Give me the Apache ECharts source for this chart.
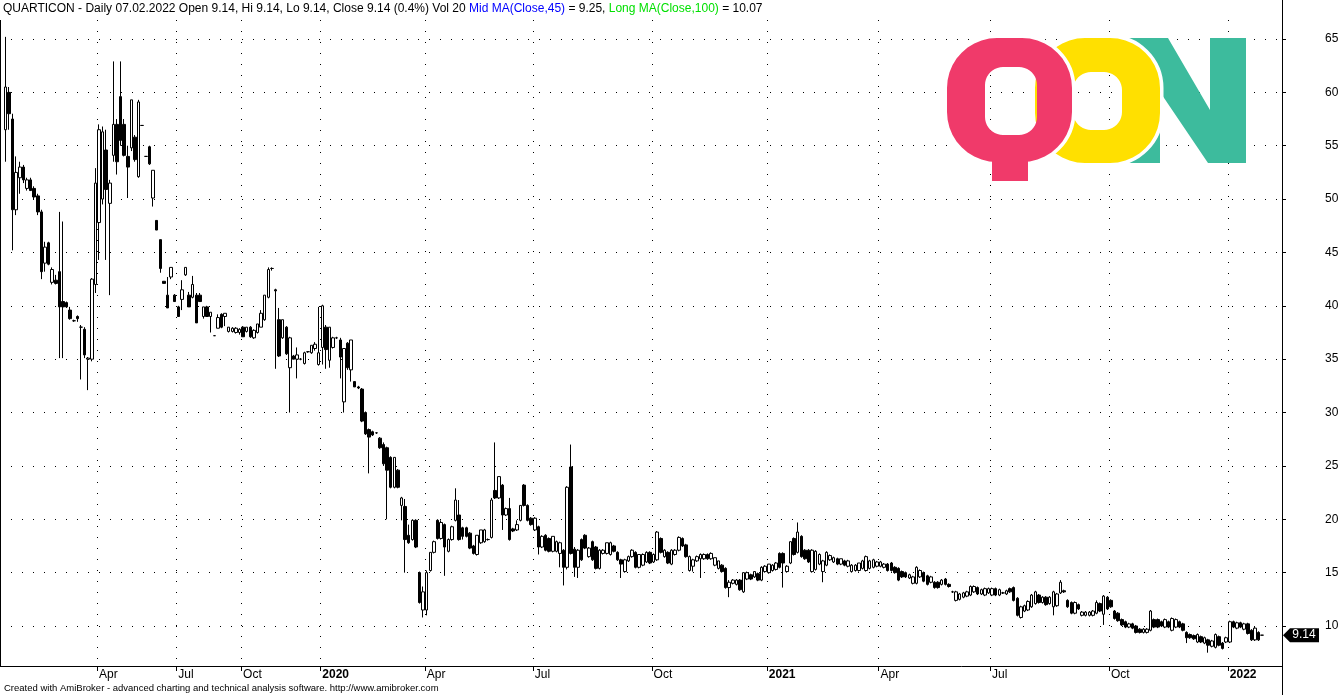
<!DOCTYPE html>
<html><head><meta charset="utf-8">
<script src="https://cdn.jsdelivr.net/npm/echarts@6/dist/echarts.min.js"></script>
<style>html,body{margin:0;padding:0;background:#fff;}#c{width:1343px;height:695px;}</style>
</head><body><div id="c"></div>
<script>
// ---- data: each bar = [open, high, low, close], grouped by calendar quarter ----
const quarterLabels = ['', 'Apr', 'Jul', 'Oct', '2020', 'Apr', 'Jul', 'Oct', '2021', 'Apr', 'Jul', 'Oct', '2022'];
const yearLabels = ['2020', '2021', '2022'];

const bars2019Q1 = [null,
[56.5,65.2,53.5,60.5],[60,60.5,56.5,58],[57.5,58,45.2,49],[49,54,48.5,52.5],[52,53.5,50.5,53],
[53,53.2,51.5,51.8],[51,52,50.8,51.8],[51.8,52,50.8,50.8],[51,51.2,50,50.2],[50.3,50.5,48.5,48.8],
[48.8,49,42.5,43.2],[44,46,43.2,45.5],[45.9,46,43.8,43.9],[42.2,43.6,42,43.4],[42.4,42.9,42,42.1],
[43.2,48.8,35.1,39.9],[40.4,47.9,35.1,39.9],[40.3,40.4,39.8,39.9],[39.6,39.9,38.7,38.8],[38.6,38.7,38.5,38.6],
[39,39.1,38.5,38.8],[38,38.2,33.1,38],[37.8,38,35.1,35.4],[35,35.2,32.1,35.1],[35,42.6,34.8,42.5],
[42,52.9,41.2,51.5]];
const bars2019Q2 = [
[47.8,57,44.3,56.5],[50,56.8,49.5,56.3],[54.6,56.5,44.3,50.9],[49.6,51.8,41,51.5],[54.1,62.9,53.5,57],
[57,57.5,52.3,53.5],[59.6,62.9,55,55.5],[57,57.5,54,54.1],[54,55,50.1,53],[54.8,59.3,54.5,59.3],
[55.8,56,53.5,53.7],[52.1,59.3,52,59.1],[56.9,56.9,56.9,56.9],[54,54,54,54],[54.9,55,53.2,53.3],
[50.1,52.7,49.3,52.7],[48,48,47.1,47.1],[46.2,46.2,43.1,43.5],[42.3,42.3,42.1,42.1],[41,42.7,39.8,39.8],
[42.7,43.6,42.5,43.6],[41,41.1,40.4,40.4]];
const bars2019Q3 = [
[39.9,40,39,39],[40.6,42.4,39.6,41.5],[42.9,43.6,42.8,43.6],[41,41.3,39.9,39.9],[40.8,42.8,40.7,42],
[41,41.2,38.4,38.4],[41,41.2,40.4,40.4],[39,39.9,38.8,39.9],[39.9,40,39,39],[39,39.4,37.5,39.4],
[37.2,37.2,37.2,37.2],[37.9,39.2,37.9,38.9],[39.2,39.3,37.9,38],[39,39.3,38.1,39.3],[37.6,38,37.5,38],
[37.6,38,37.5,37.9],[37.5,38,37.4,37.9],[37.5,37.9,37.3,37.8]];
const bars2019Q4 = [
[38,38.1,37.1,37.1],[37.6,38,37.5,38],[38,38.1,37,37.1],[37,37.8,36.9,37.7],[37.5,38.3,37.4,38.3],
[38,39.6,38,39.3],[38.7,41,38.6,41],[40.8,43.6,40.7,43.4],[43.5,43.6,43.3,43.5],[41.5,41.6,34.1,41.4],
[38.7,39.8,35.2,35.3],[37,38.7,36.9,38.7],[38,38.1,35.4,35.5],[34.2,37.1,30,37],[35.3,35.4,35,35],
[35,36.1,33.2,35.4],[35,35.1,34.9,35],[34.6,35.7,34.5,35.6],[35.7,35.7,35.6,35.7],[35.6,36.3,35.5,36.3],
[36,36.6,35.8,36.4],[34.5,39.9,34.4,35.6]];
const bars2020Q1 = [
[36.1,40.1,34.5,40],[38,38.2,34.1,35.9],[34.9,38,34.2,38],[36.1,37.1,36,37],[37,37.1,36.9,37],
[36.8,37,33.2,35.2],[31,36,30,36],[36.5,36.6,34,34.2],[34,36.8,32.9,36.8],[32.9,32.9,32.4,32.4],
[32.4,32.5,32.2,32.3],[32.2,32.3,29.1,29.2],[30,30.1,27.9,28],[28.4,28.5,24.3,27.7],[28.2,28.3,27.8,27.9],
[28.1,28.1,28,28.1],[27.6,27.7,26.6,26.7],[27,27.2,25,25.2],[26.7,26.8,20,24.6],[25.8,25.9,22.9,23],
[23,25.8,22.9,25.8],[24.6,24.7,22.9,23],[21.3,22.1,19.9,22],[21.2,21.9,15,18.1],[18.5,19.5,17.7,17.8],
[18.1,20,18,19.9],[19.9,20,17.3,17.4],[15,15.1,12.1,12.2],[11.5,13.7,10.8,13.2]];
const bars2020Q2 = [
[11.5,15.2,11,15],[15.2,16.9,15.1,16.9],[16.9,18,16.8,17.9],[19.9,20,18.1,18.2],[18.2,19.9,18.1,19.7],
[19.5,19.6,14.7,17.4],[17,18.2,16.9,18.1],[18.1,19.4,18,19.3],[19.9,22.9,19.8,21.8],[20.4,21.8,18,18.1],
[19.2,19.3,18.1,18.4],[19.2,19.3,18.3,18.4],[18.7,18.8,17.2,17.3],[17.5,17.6,16.7,16.8],[16.7,18.5,16.6,18.5],
[17.8,19,17.7,19],[17.9,19.1,17.8,19],[18.1,18.2,18,18.1],[18.3,22,18.2,21.8],[22.7,27.2,21.9,22],
[22,24,21.9,24],[23.2,23.3,19,20.4],[20.4,21.1,20.3,21],[21,22,18,18.1],[19.1,19.2,18.8,18.9],
[19,19.9,18.9,19.5],[19.9,21.3,19.8,21.3],[23.2,23.3,21.2,21.3],[21.3,21.4,19.8,19.9],[20.1,20.2,19.4,19.5]];
const bars2020Q3 = [
[19,20.2,18.9,20.1],[19.3,19.4,16.7,17.4],[17.4,18.5,17.3,18.4],[18.5,18.6,17,17.1],[18.2,18.3,16.9,17],
[17,18.4,16.9,18.4],[17,18,16.9,17.9],[16.8,17.9,15.5,17.8],[17.1,17.2,13.8,15.5],[15.5,23.1,15.3,23],
[24.9,27,16.7,16.8],[17.2,17.4,14.6,15.5],[15.5,17.2,14.5,17.1],[18.1,18.2,16.1,16.2],[18.5,18.6,17.2,17.3],
[16.5,17.4,16.4,17.3],[17.9,18,16.1,16.2],[17.4,17.5,15.3,15.4],[15.4,17.2,15.3,17.1],[16.8,17.2,16.7,17.1],
[16.8,17.8,16.7,17.8],[16.7,17.9,16.6,17.8],[17.5,17.6,16.9,17],[16.9,17,16.1,16.2],[16.2,16.3,14.5,15.8],
[15.1,16.3,15,16.2],[16.1,16.6,16,16.5],[16.5,17.2,16.4,17.1],[16.9,17,15.4,15.5],[15.5,16.7,15.4,16.7],
[15.7,16.8,15.6,16.7],[16,17,15.9,16.9],[16.9,17,15.8,15.9]];
const bars2020Q4 = [
[16,16.8,15.9,16.7],[16.2,18.9,16.1,18.8],[18.2,18.3,16.8,16.9],[16.5,17.2,16.4,17.1],[16.9,17,15.8,15.9],
[15.8,17.2,15.7,17.1],[16.7,17.2,16.6,17.1],[17.1,18.4,17,18.3],[18.2,18.3,17.4,17.5],[17.6,17.7,16.4,16.5],
[15.2,16.6,15.1,16.5],[15.6,16.3,15.1,16.2],[16.1,16.6,16,16.5],[16.3,16.8,14.5,16.7],[16.3,16.8,16.2,16.7],
[16.7,16.8,16.2,16.3],[16.3,16.9,16.2,16.8],[15.7,16.4,15.6,16.4],[15.4,16.1,15.3,16.1],[15.7,15.8,15,15.1],
[15.4,15.5,13.5,13.6],[13.6,14.3,12.7,14.1],[14,14.4,13.9,14.3],[13.9,14.4,13.8,14.3],[14.3,14.4,13.3,13.4],
[13.2,15,13.1,15],[14.4,15.1,14.3,15],[14.8,14.9,14.3,14.4],[14.6,15.1,14.5,15.1],[14.9,15,14.2,14.3],
[14.3,15.6,14.2,15.5],[15.1,15.7,15,15.6]];
const bars2021Q1 = [
[15,15.8,14.9,15.8],[15.2,15.8,15.1,15.7],[15.3,16,15.2,15.9],[16.8,16.9,15.4,15.5],[16.8,16.9,13.6,15.9],
[15.1,15.7,15,15.6],[15.9,17.9,15.8,17.9],[18.2,18.3,16.6,16.7],[16.9,19.7,16.8,18.8],[18.4,18.5,16.4,16.5],
[17.1,17.2,16.2,16.3],[17.1,17.2,15.9,16],[15.1,17.2,15,17.1],[15.3,17.1,15.2,17],[15.8,16.8,15.7,16.7],
[15.1,16.2,14.1,16.1],[15.7,17,15.6,16.9],[16.2,16.7,16.1,16.6],[16,16.5,15.9,16.4],[16.3,16.4,15.7,15.8],
[15.8,16.3,15.7,16.3],[16.1,16.2,15.6,15.7],[15.6,16.2,15.5,16.1],[15.1,15.8,15,15.7],[15.2,15.8,15.1,15.7],
[15.2,15.9,15.1,15.9],[15.4,16.2,15.3,16.1],[15.2,16.6,15.1,16.5],[15.4,16.2,15.3,16.1],[15.5,16.3,15.4,16.2],
[15.6,16.1,15.5,16]];
const bars2021Q2 = [
[15.6,16.1,15.5,16],[15.5,15.9,15.4,15.8],[15.8,15.9,15.1,15.2],[15.9,16,15.1,15.2],[15.5,15.6,14.9,15],
[15.4,15.5,14.2,14.3],[15.1,15.2,14.5,14.6],[15,15.1,14.5,14.6],[14.5,14.9,14.4,14.8],[14,14.7,13.9,14.6],
[14,15.6,13.9,15.5],[14.6,15.3,14.5,15.2],[15,15.1,14.1,14.2],[14.7,14.8,13.8,13.9],[14.1,14.7,14,14.6],
[14.1,14.2,13.5,13.6],[14.1,14.2,13.5,13.6],[13.9,14.4,13.8,14.3],[14.4,14.5,13.8,13.9],[13.9,14,13.6,13.7],
[13.2,13.3,13.1,13.2],[12.4,13.3,12.3,13.2],[12.5,13.1,12.4,13],[12.7,13.2,12.6,13.1],[12.8,13.3,12.7,13.2],
[12.9,13.8,12.8,13.7],[13.2,13.8,13.1,13.7],[13.6,13.7,12.9,13],[13,13.5,12.9,13.4],[12.9,13.6,12.8,13.5],
[13.1,13.6,13,13.5]];
const bars2021Q3 = [
[12.9,13.6,12.8,13.5],[13.5,13.6,12.8,12.9],[12.9,13.5,12.8,13.4],[13.1,13.2,13,13.1],[13,13.4,12.9,13.3],
[13.5,13.6,13.1,13.2],[13.6,13.7,12.3,12.4],[12.6,12.7,10.9,11],[10.8,11.9,10.7,11.8],[11.4,12,11.3,11.9],
[11.5,12.4,11.4,12.3],[11.8,13,11.7,12.9],[12.1,13.3,12,13.2],[12.9,13,12.1,12.2],[12.2,12.8,12.1,12.7],
[12.7,12.8,11.9,12],[12.1,12.8,12,12.7],[11.8,13.3,11,13.2],[11.9,13.1,11.8,13],[13.1,14.3,13,14.1],
[13.3,13.4,13.1,13.2],[12.4,12.5,11.7,11.8],[12.2,12.3,11.1,11.2],[11.2,12.3,11.1,12.2],[12,12.1,11.5,11.6],
[11,11.4,10.9,11.3],[11,11.4,10.9,11.3],[11,11.4,10.9,11.3],[11,11.5,10.9,11.4],[11.2,12.4,11.1,12.2],
[12.1,12.2,11.3,11.4],[11.1,12.9,10.1,12.8],[12.7,12.8,11.5,11.6]];
const bars2021Q4 = [
[12.4,12.5,11.7,11.8],[11.4,11.5,10.6,10.7],[11.2,11.3,10.4,10.5],[10.6,10.7,10,10.1],[10.4,10.5,9.8,9.9],
[9.9,10.3,9.8,10.2],[10.2,10.3,9.7,9.8],[10,10.1,9.3,9.4],[9.7,9.8,9.3,9.4],[9.4,9.8,9.3,9.7],
[9.4,9.8,9.3,9.7],[9.6,11.5,9.5,11.4],[10.6,10.7,9.8,9.9],[10.6,10.7,9.8,9.9],[10.4,10.5,9.9,10],
[9.9,10.7,9.8,10.6],[10.4,10.5,9.8,9.9],[9.6,10.8,9.5,10.7],[9.9,10.7,9.8,10.6],[10.4,10.5,9.8,9.9],
[10.2,10.3,9.5,9.6],[9.4,9.5,8.4,8.9],[9.2,9.3,8.8,8.9],[9.1,9.2,8.7,8.8],[8.5,9.3,8.4,9.2],
[9,9.1,8.4,8.5],[8.4,9,8.3,8.9],[8.7,8.8,7.5,8.2],[8.1,8.7,8,8.6],[8,9.3,7.9,9.2],
[9,9.1,8.1,8.2],[8.4,8.5,7.8,7.9],[8.5,9,8.4,8.9]];
const bars2022Q1 = [
[8.5,10.5,8.4,10.4],[10.4,10.5,9.8,9.9],[9.8,10.4,9.7,10.3],[10.3,10.4,9.8,9.9],[9.7,10.3,9.6,10.2],
[10.2,10.3,9.2,9.3],[9.6,9.7,8.6,8.7],[8.7,9.9,8.6,9.8],[9.4,9.5,8.6,8.7],[9.14,9.14,9.14,9.14]];
const emptyBarsAtRight = 5;

const titleParts = [
  ['k', 'QUARTICON - Daily 07.02.2022 Open 9.14, Hi 9.14, Lo 9.14, Close 9.14 (0.4%) Vol 20 '],
  ['b', 'Mid MA(Close,45)'], ['k', ' = 9.25, '], ['g', 'Long MA(Close,100)'], ['k', ' = 10.07']
];
const footerText = 'Created with AmiBroker - advanced charting and technical analysis software. http://www.amibroker.com';

// ---- build category axis + candle data ----
const quarters = [bars2019Q1, bars2019Q2, bars2019Q3, bars2019Q4, bars2020Q1, bars2020Q2, bars2020Q3,
  bars2020Q4, bars2021Q1, bars2021Q2, bars2021Q3, bars2021Q4, bars2022Q1];
const cats = [], candles = [], labelAt = {};
quarters.forEach((q, qi) => {
  labelAt[cats.length] = quarterLabels[qi];
  q.forEach((b, j) => {
    cats.push('q' + qi + '_' + j);
    candles.push(b ? [b[0], b[3], b[2], b[1]] : ['-', '-', '-', '-']);
  });
});
for (let k = 0; k < emptyBarsAtRight; k++) cats.push('pad' + k);
const isTick = (idx) => idx > 0 && labelAt[idx] !== undefined;
const lastBar = bars2022Q1[bars2022Q1.length - 1];
const lastClose = lastBar[3];

const FONT = 'Liberation Sans, Arial, sans-serif';
const W = 1343, H = 695, PL = 0, PR = 1282, PT = 20, PB = 666;

// ---- logo geometry helpers ----
function rr(x, y, w, h, r) {
  const pts = [], n = 10;
  const cs = [[x + w - r, y + r, -90, 0], [x + w - r, y + h - r, 0, 90], [x + r, y + h - r, 90, 180], [x + r, y + r, 180, 270]];
  cs.forEach(([cx, cy, a0, a1]) => {
    for (let k = 0; k <= n; k++) { const a = (a0 + (a1 - a0) * k / n) * Math.PI / 180; pts.push([cx + r * Math.cos(a), cy + r * Math.sin(a)]); }
  });
  return pts;
}
function ring(o, i) {
  const op = rr.apply(null, o), ip = rr.apply(null, i).reverse();
  return op.concat([op[0]], ip, [ip[0]]);
}
const PINK = '#F03A6A', YEL = '#FFE000', GRN = '#3DBB9D';
const logo = [
  { type: 'polygon', shape: { points: [[1125,38],[1168,38],[1210,110],[1210,38],[1246,38],[1246,163],[1208,163],[1160,92],[1160,163],[1125,163]] }, style: { fill: GRN } },
  { type: 'rect', shape: { x: 1035, y: 38, width: 125, height: 125, r: 50 }, style: { fill: 'none', stroke: '#fff', lineWidth: 7 } },
  { type: 'polygon', shape: { points: ring([1035, 38, 125, 125, 50], [1073, 72, 49, 58, 18]) }, style: { fill: YEL } },
  { type: 'rect', shape: { x: 947, y: 38, width: 125, height: 124, r: 50 }, style: { fill: 'none', stroke: '#fff', lineWidth: 7 } },
  { type: 'polygon', shape: { points: ring([947, 38, 125, 124, 50], [985, 67, 52, 68, 18]) }, style: { fill: PINK } },
  { type: 'rect', shape: { x: 992, y: 150, width: 36, height: 31 }, style: { fill: PINK } },
];

const chart = echarts.init(document.getElementById('c'), null, { renderer: 'canvas' });
const dotted = { color: '#000', width: 1, type: [1, 10] };
chart.setOption({
  animation: false,
  backgroundColor: '#fff',
  textStyle: { fontFamily: FONT },
  title: {
    left: 3, top: 3, padding: 0,
    text: titleParts.map(p => '{' + p[0] + '|' + p[1] + '}').join(''),
    textStyle: { fontSize: 12, fontWeight: 'normal', rich: {
      k: { color: '#000', fontSize: 12, fontFamily: FONT },
      b: { color: '#0000FF', fontSize: 12, fontFamily: FONT },
      g: { color: '#00E000', fontSize: 12, fontFamily: FONT } } }
  },
  grid: { left: PL, right: W - PR, top: PT, bottom: H - PB, containLabel: false },
  xAxis: {
    type: 'category', data: cats, boundaryGap: true,
    axisLine: { show: true, lineStyle: { color: '#000', width: 1 } },
    axisTick: { show: true, interval: isTick, length: 5, lineStyle: { color: '#000' } },
    splitLine: { show: true, interval: isTick, lineStyle: dotted },
    axisLabel: {
      interval: isTick, align: 'left', margin: 3, fontSize: 12, color: '#000', fontFamily: FONT,
      formatter: (v, idx) => { const t = labelAt[idx] || ''; return yearLabels.includes(t) ? '{y|' + t + '}' : t; },
      rich: { y: { fontWeight: 'bold', fontSize: 12, color: '#000', fontFamily: FONT } }
    }
  },
  yAxis: {
    type: 'value', position: 'right', min: 6.252, max: 66.78, splitNumber: 12, scale: true,
    axisLine: { show: true, lineStyle: { color: '#000', width: 1 } },
    axisTick: { show: true, length: 4, lineStyle: { color: '#000' } },
    splitLine: { show: true, showMaxLine: false, showMinLine: false, lineStyle: dotted },
    axisLabel: { showMinLabel: false, showMaxLabel: false, margin: 43, fontSize: 12, color: '#000', fontFamily: FONT }
  },
  series: [{
    type: 'candlestick', data: candles, barWidth: 3,
    itemStyle: { color: '#fff', color0: '#000', borderColor: '#000', borderColor0: '#000', borderWidth: 1 }
  }]
});
// frame lines, footer and last-price tag placed with the axis scale
const yLast = chart.convertToPixel({ yAxisIndex: 0 }, lastClose);
chart.setOption({ graphic: logo.concat([
  { type: 'line', shape: { x1: PR + 0.5, y1: 0, x2: PR + 0.5, y2: H }, style: { stroke: '#000', lineWidth: 1 } },
  { type: 'line', shape: { x1: 0.5, y1: PT, x2: 0.5, y2: PB }, style: { stroke: '#000', lineWidth: 1 } },
  { type: 'text', left: 4, top: 683, style: { text: footerText, font: '9.5px ' + FONT, fill: '#000' } },
  { type: 'polygon', shape: { points: [[PR + 1, yLast], [PR + 8, yLast - 7], [PR + 37, yLast - 7], [PR + 37, yLast + 7], [PR + 8, yLast + 7]] }, style: { fill: '#000' } },
  { type: 'text', x: PR + 22, y: yLast, style: { text: String(lastClose), font: '12px ' + FONT, fill: '#fff', align: 'center', verticalAlign: 'middle' } }
]) });
</script>
</body></html>
